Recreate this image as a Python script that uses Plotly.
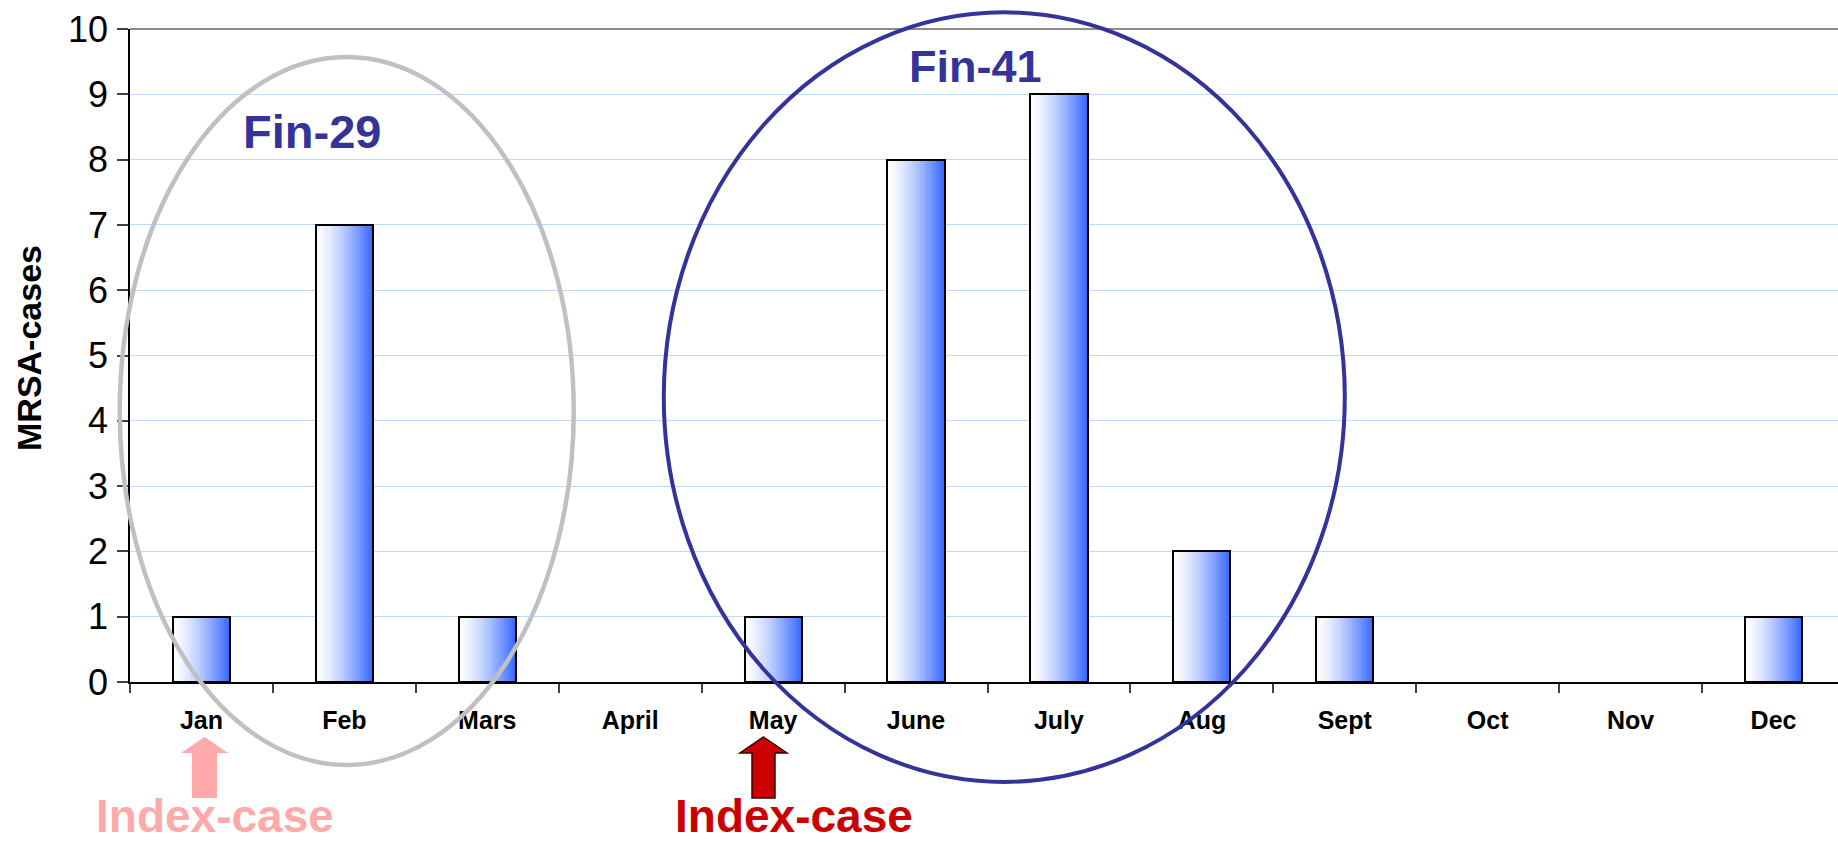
import plotly.graph_objects as go

# ---------------- data ----------------
months = ["Jan", "Feb", "Mars", "April", "May", "June", "July", "Aug", "Sept", "Oct", "Nov", "Dec"]
cases = [1, 7, 1, 0, 1, 8, 9, 2, 1, 0, 0, 1]
y_tick_values = list(range(0, 11))

cluster_labels = ["Fin-29", "Fin-41"]
index_label = "Index-case"
y_title = "MRSA-cases"

# ---------------- layout geometry ----------------
W, H = 1838, 843
L, R, T, B = 130, 0, 29, 161
x_range = [-0.5, 11.451]
y_range = [0, 10]
plot_w = W - L - R
plot_h = H - T - B

FONT = "Liberation Sans, Arial, sans-serif"


def ax2px(xv):  # x axis units -> paper
    return (xv - x_range[0]) / (x_range[1] - x_range[0])


def ay2py(yv):  # y axis units -> paper
    return (yv - y_range[0]) / (y_range[1] - y_range[0])


def pix_x(p):  # pixel -> paper
    return (p - L) / plot_w


def pix_y(p):
    return (H - B - p) / plot_h


fig = go.Figure()

# zero months draw no bar
shown = [v if v else None for v in cases]

# gradient bars built from thin overlapping strips
bar_w = 0.4
N = 40
strip = bar_w / N
for i in range(N):
    t = (i + 0.5) / N
    f = t ** 1.4
    r = int(round(255 - (255 - 51) * f))
    g = int(round(255 - (255 - 102) * f))
    col = f"rgb({r},{g},255)"
    off = -bar_w / 2 + i * strip
    w = min(strip * 1.8, bar_w / 2 - off)
    fig.add_trace(go.Bar(
        x=months, y=shown, width=w, offset=off,
        marker=dict(color=col, line=dict(width=0)),
        showlegend=False, hoverinfo="skip",
    ))

# outlines
fig.add_trace(go.Bar(
    x=months, y=shown, width=bar_w, offset=-bar_w / 2,
    marker=dict(color="rgba(0,0,0,0)", line=dict(color="black", width=2)),
    showlegend=False, hovertemplate="%{x}: %{y}<extra></extra>",
))

shapes = []
# top border of plot area
shapes.append(dict(type="line", xref="paper", yref="paper", x0=0, x1=1, y0=1, y1=1,
                   line=dict(color="#8c8c8c", width=2), layer="above"))

# cluster ellipses (axis units -> paper)
ell_grey = dict(x0=-0.572, x1=2.605, y0=-1.27, y1=9.57)
ell_blue = dict(x0=3.235, x1=8.0, y0=-1.53, y1=10.255)
shapes.append(dict(type="circle", xref="paper", yref="paper",
                   x0=ax2px(ell_grey["x0"]), x1=ax2px(ell_grey["x1"]),
                   y0=ay2py(ell_grey["y0"]), y1=ay2py(ell_grey["y1"]),
                   line=dict(color="#c0c0c0", width=4.5), fillcolor="rgba(0,0,0,0)", layer="above"))
shapes.append(dict(type="circle", xref="paper", yref="paper",
                   x0=ax2px(ell_blue["x0"]), x1=ax2px(ell_blue["x1"]),
                   y0=ay2py(ell_blue["y0"]), y1=ay2py(ell_blue["y1"]),
                   line=dict(color="#333399", width=4), fillcolor="rgba(0,0,0,0)", layer="above"))


def arrow_path(cx, top, head_base, bottom, head_half, shaft_half):
    pts = [
        (cx, top),
        (cx + head_half, head_base),
        (cx + shaft_half, head_base),
        (cx + shaft_half, bottom),
        (cx - shaft_half, bottom),
        (cx - shaft_half, head_base),
        (cx - head_half, head_base),
    ]
    d = "M " + " L ".join(f"{pix_x(x):.5f},{pix_y(y):.5f}" for x, y in pts) + " Z"
    return d


shapes.append(dict(type="path", xref="paper", yref="paper",
                   path=arrow_path(204.5, 737, 753, 798, 23.5, 12.5),
                   fillcolor="#ffaaaa", line=dict(width=0), layer="above"))
shapes.append(dict(type="path", xref="paper", yref="paper",
                   path=arrow_path(763.5, 737, 753, 798, 23.5, 11.5),
                   fillcolor="#cc0000", line=dict(color="#3a0000", width=1.5), layer="above"))

C = dict(xanchor="center", yanchor="middle", showarrow=False, xref="paper", yref="paper")
annotations = [
    dict(text=cluster_labels[0], x=ax2px(0.775), y=ay2py(8.43),
         font=dict(family=FONT, size=47, color="#333399", weight="bold"), **C),
    dict(text=cluster_labels[1], x=ax2px(5.418), y=ay2py(9.43),
         font=dict(family=FONT, size=45, color="#333399", weight="bold"), **C),
    dict(text=index_label, x=pix_x(215), y=pix_y(816),
         font=dict(family=FONT, size=46, color="#ffaaaa", weight="bold"), **C),
    dict(text=index_label, x=pix_x(793.5), y=pix_y(816),
         font=dict(family=FONT, size=46, color="#cc0000", weight="bold"), **C),
    dict(text=y_title, x=pix_x(29), y=pix_y(348), textangle=-90,
         font=dict(family=FONT, size=34, color="black", weight="bold"), **C),
]

fig.update_layout(
    width=W, height=H,
    margin=dict(l=L, r=R, t=T, b=B, pad=0),
    paper_bgcolor="white", plot_bgcolor="white",
    barmode="overlay",
    bargap=0,
    showlegend=False,
    shapes=shapes,
    annotations=annotations,
    font=dict(family=FONT, color="black"),
    xaxis=dict(
        type="category", categoryorder="array", categoryarray=months,
        range=x_range, fixedrange=True,
        showgrid=False, zeroline=False,
        showline=True, linecolor="black", linewidth=2,
        ticks="outside", tickson="boundaries", ticklen=9, tickwidth=1.5, tickcolor="#404040",
        tickfont=dict(family=FONT, size=25, color="black", weight="bold"),
        ticklabelstandoff=15,
    ),
    yaxis=dict(
        range=y_range, tickvals=y_tick_values, fixedrange=True,
        showgrid=True, gridcolor="#bcdcfa", gridwidth=1.2,
        zeroline=False,
        showline=True, linecolor="black", linewidth=1.5,
        ticks="outside", ticklen=11, tickwidth=1.5, tickcolor="#404040",
        tickfont=dict(family=FONT, size=36, color="black"),
        ticklabelstandoff=2,
    ),
)

fig.write_html("out.html")
